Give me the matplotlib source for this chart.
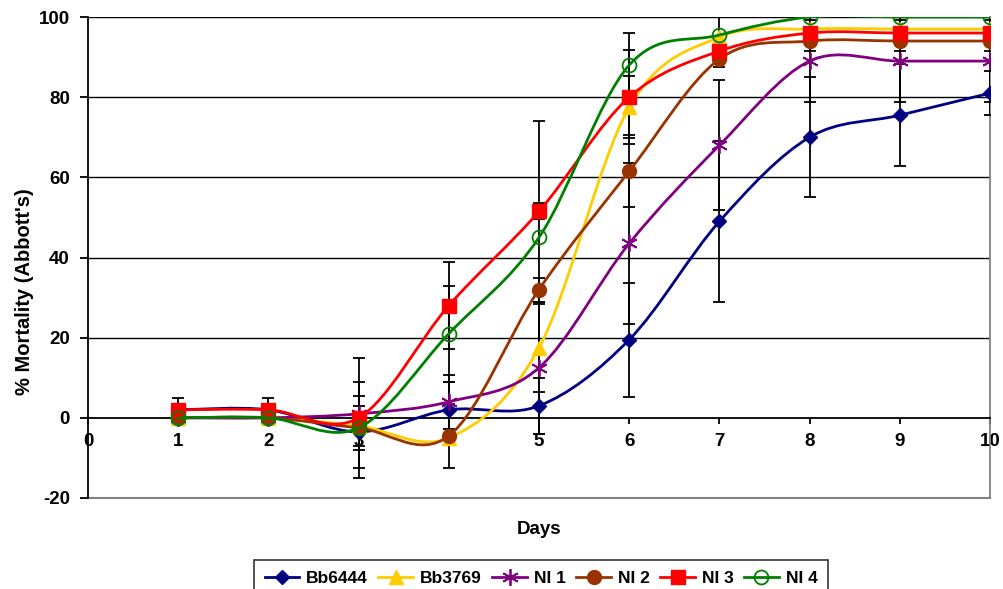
import matplotlib.pyplot as plt
import numpy as np
from matplotlib.path import Path
from matplotlib.patches import PathPatch
from matplotlib.lines import Line2D

plt.rcParams['font.family'] = ['Liberation Sans', 'DejaVu Sans']
plt.rcParams['font.weight'] = 'bold'
plt.rcParams['axes.unicode_minus'] = False

days = [1, 2, 3, 4, 5, 6, 7, 8, 9, 10]

bb6444 = [2, 2, -3.5, 2, 3, 19.5, 49, 70, 75.5, 81]
bb3769 = [0, 0, -2, -5, 17.5, 77.5, 95, 97, 97, 97]
ni1 = [0, 0, 1, 4, 12.5, 43.5, 68, 89, 89, 89]
ni2 = [0, 0, -2.5, -4.5, 32, 61.5, 89.5, 94, 94, 94]
ni3 = [2, 2, 0, 28, 51.5, 80, 91.5, 96, 96, 96]
ni4 = [0, 0, -2.5, 21, 45, 88, 95.5, 100, 100, 100]

err_bb6444 = [0, 0, 9, 7, 7, 14.2, 20, 15, 12.7, 5.5]
err_bb3769 = [0, 0, 0, 0, 11, 7.7, 0, 0, 0, 0]
err_ni1 = [0, 0, 8, 6.8, 16.5, 20, 16.2, 10.3, 10.3, 10.3]
err_ni2 = [0, 0, 0, 8, 3, 9, 0, 0, 0, 0]
err_ni3 = [3, 3, 15, 10.8, 2, 11.7, 0, 4.5, 4.5, 4.5]
err_ni4 = [0, 0, 5.5, 12, 29, 8, 8, 2.7, 2.7, 2.7]

labels = ['Bb6444', 'Bb3769', 'NI 1', 'NI 2', 'NI 3', 'NI 4']
colors = ['#000080', '#FFCC00', '#800080', '#993300', '#FF0000', '#008000']


def smooth_path(x, y):
    # Excel-style smoothed line: cubic bezier through every point
    pts = np.column_stack([x, y]).astype(float)
    n = len(pts)
    verts = [pts[0]]
    codes = [Path.MOVETO]
    for i in range(n - 1):
        p0 = pts[max(i - 1, 0)]
        p1 = pts[i]
        p2 = pts[i + 1]
        p3 = pts[min(i + 2, n - 1)]
        c1 = p1 + (p2 - p0) / 6.0
        c2 = p2 - (p3 - p1) / 6.0
        verts += [c1, c2, p2]
        codes += [Path.CURVE4] * 3
    return Path(verts, codes)


fig = plt.figure(figsize=(10.04, 5.89), dpi=100)
ax = fig.add_axes([88 / 1004, 1 - 498 / 589, 902 / 1004, 481 / 589])

series = [bb6444, bb3769, ni1, ni2, ni3, ni4]
errors = [err_bb6444, err_bb3769, err_ni1, err_ni2, err_ni3, err_ni4]
styles = [
    dict(marker='D', markersize=7),
    dict(marker='^', markersize=10),
    dict(marker=(6, 2, 0), markersize=12, markeredgewidth=1.3),
    dict(marker='o', markersize=10),
    dict(marker='s', markersize=10),
    dict(marker='o', markersize=10, markerfacecolor='none', markeredgewidth=1.3),
]

# error bars first (beneath the series)
for vals, errs in zip(series, errors):
    idx = [i for i, e in enumerate(errs) if e > 0]
    ax.errorbar([days[i] for i in idx], [vals[i] for i in idx],
                yerr=[errs[i] for i in idx], fmt='none', ecolor='black',
                elinewidth=1.3, capsize=4, capthick=1.3, zorder=3)

handles = []
for k, (vals, col, st) in enumerate(zip(series, colors, styles)):
    patch = PathPatch(smooth_path(days, vals), fill=False, edgecolor=col,
                      linewidth=2, capstyle='round', joinstyle='round', zorder=4 + k)
    ax.add_patch(patch)
    kw = dict(color=col, markeredgecolor=col)
    kw.update(st)
    if 'markerfacecolor' not in kw:
        kw['markerfacecolor'] = col
    ax.plot(days, vals, linestyle='none', zorder=4 + k + 0.5, **kw)
    handles.append(Line2D([], [], linewidth=2, label=labels[k], **kw))

ax.set_xlim(0, 10)
ax.set_ylim(-20, 100)
ax.set_yticks(range(-20, 101, 20))
ax.set_xticks(range(0, 11))
for y in range(20, 101, 20):
    ax.axhline(y, color='black', linewidth=1, zorder=1)
ax.axhline(-20, color='#808080', linewidth=1.5, zorder=1, clip_on=False)

ax.spines['bottom'].set_position(('data', 0))
ax.spines['bottom'].set_linewidth(1.3)
ax.spines['left'].set_linewidth(1.3)
ax.spines['top'].set_visible(False)
ax.spines['right'].set_color('#808080')
ax.spines['right'].set_linewidth(1.3)

ax.tick_params(axis='both', direction='out', width=1.3, labelsize=13.5)
ax.tick_params(axis='x', length=4, pad=7)
ax.tick_params(axis='y', length=6, pad=7)

ax.set_ylabel("% Mortality (Abbott's)", fontsize=14.5, fontweight='bold')
ax.yaxis.set_label_coords(-0.06, 0.43)
fig.text(539 / 1004, 1 - 530 / 589, 'Days', ha='center', va='center',
         fontsize=13.5, fontweight='bold')

leg = fig.legend(handles=handles, loc='lower center', ncol=6,
                 bbox_to_anchor=(541 / 1004, -0.012), bbox_transform=fig.transFigure,
                 fontsize=12.5, frameon=True, fancybox=False, edgecolor='black',
                 handlelength=2.0, handletextpad=0.4, columnspacing=0.6,
                 borderaxespad=0, borderpad=0.6)
leg.get_frame().set_linewidth(1.2)

fig.savefig('out.png', dpi=100)
